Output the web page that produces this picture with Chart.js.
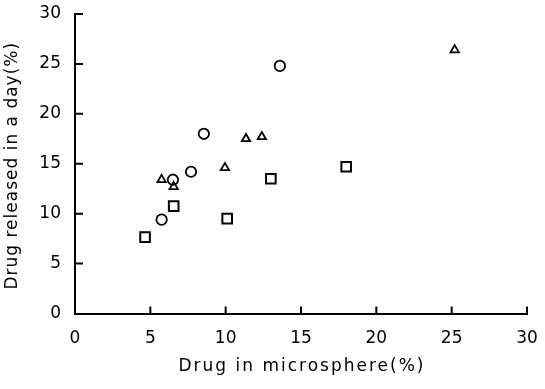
<!DOCTYPE html>
<html>
<head>
<meta charset="utf-8">
<script src="https://cdn.jsdelivr.net/npm/chart.js@4/dist/chart.umd.min.js"></script>
<style>
  html,body{margin:0;padding:0;background:#fff;}
  #wrap{width:545px;height:389px;position:relative;}
</style>
</head>
<body>
<div id="wrap"><canvas id="chart"></canvas></div>
<script>
// values
const circleX = [13.6, 8.55, 7.7, 6.5, 5.75];
const circleY = [24.8, 18.0, 14.2, 13.4, 9.4];
const triX = [25.2, 11.35, 12.4, 9.95, 5.75, 6.55];
const triY = [26.4, 17.5, 17.7, 14.6, 13.4, 12.7];
const squareX = [18.0, 13.0, 6.55, 10.1, 4.65];
const squareY = [14.7, 13.5, 10.75, 9.5, 7.65];
const xTicks = [0, 5, 10, 15, 20, 25, 30];
const yTicks = [0, 5, 10, 15, 20, 25, 30];
const xTitle = 'Drug in microsphere(%)';
const yTitle = 'Drug released in a day(%)';

const FONT = 'DejaVu Sans';

function pts(xs, ys){
  return xs.map((x,i) => ({x, y: ys[i]}));
}

// ticks in the picture point into the plot, titles are letter-spaced
const decor = {
  id: 'decor',
  afterDraw(c){
    const ctx = c.ctx, a = c.chartArea;
    const xs = c.scales.x, ys = c.scales.y;
    ctx.save();
    ctx.strokeStyle = '#000';
    ctx.lineWidth = 2;
    ctx.beginPath();
    xTicks.forEach(v => {
      if(v === 0) return;
      const px = xs.getPixelForValue(v);
      ctx.moveTo(px, a.bottom);
      ctx.lineTo(px, a.bottom - 7);
    });
    yTicks.forEach(v => {
      if(v === 0) return;
      const py = ys.getPixelForValue(v);
      ctx.moveTo(a.left, py);
      ctx.lineTo(a.left + 8, py);
    });
    ctx.stroke();

    ctx.fillStyle = '#000';
    ctx.font = '17px "' + FONT + '"';
    ctx.textAlign = 'center';
    ctx.textBaseline = 'middle';
    ctx.letterSpacing = '2px';
    ctx.fillText(xTitle, (a.left + a.right) / 2 + 1, 367);

    ctx.letterSpacing = '1px';
    ctx.translate(13, (a.top + a.bottom) / 2 + 2);
    ctx.rotate(-Math.PI / 2);
    ctx.fillText(yTitle, 0, 0);
    ctx.restore();
  }
};

new Chart(document.getElementById('chart'), {
  type: 'scatter',
  data: {
    datasets: [
      {
        label: 'circle',
        data: pts(circleX, circleY),
        pointStyle: 'circle',
        pointRadius: 5.2,
        pointBorderWidth: 1.8,
        borderColor: '#000',
        backgroundColor: 'rgba(0,0,0,0)'
      },
      {
        label: 'triangle',
        data: pts(triX, triY),
        pointStyle: 'triangle',
        pointRadius: 4.8,
        pointBorderWidth: 1.8,
        borderColor: '#000',
        backgroundColor: 'rgba(0,0,0,0)'
      },
      {
        label: 'square',
        data: pts(squareX, squareY),
        pointStyle: 'rect',
        pointRadius: 6.8,
        pointBorderWidth: 2,
        borderColor: '#000',
        backgroundColor: 'rgba(0,0,0,0)'
      }
    ]
  },
  options: {
    responsive: true,
    maintainAspectRatio: false,
    animation: false,
    layout: { padding: { top: 14, right: 18, left: 0, bottom: 0 } },
    plugins: {
      legend: { display: false },
      tooltip: { enabled: false }
    },
    scales: {
      x: {
        type: 'linear',
        min: 0, max: 30,
        afterBuildTicks: s => { s.ticks = xTicks.map(v => ({value: v})); },
        afterFit: s => { s.height = 75.5; s.paddingLeft = 0; s.paddingRight = 0; },
        grid: { display: true, drawOnChartArea: false, drawTicks: false },
        border: { display: true, color: '#000', width: 2 },
        ticks: { color: '#000', padding: 15, font: { family: FONT, size: 17 }, maxRotation: 0 }
      },
      y: {
        type: 'linear',
        min: 0, max: 30,
        afterBuildTicks: s => { s.ticks = yTicks.map(v => ({value: v})); },
        afterFit: s => { s.width = 75; s.paddingTop = 0; s.paddingBottom = 0; },
        grid: { display: true, drawOnChartArea: false, drawTicks: false },
        border: { display: true, color: '#000', width: 2 },
        ticks: { color: '#000', padding: 14, font: { family: FONT, size: 17 } }
      }
    }
  },
  plugins: [decor]
});
</script>
</body>
</html>
